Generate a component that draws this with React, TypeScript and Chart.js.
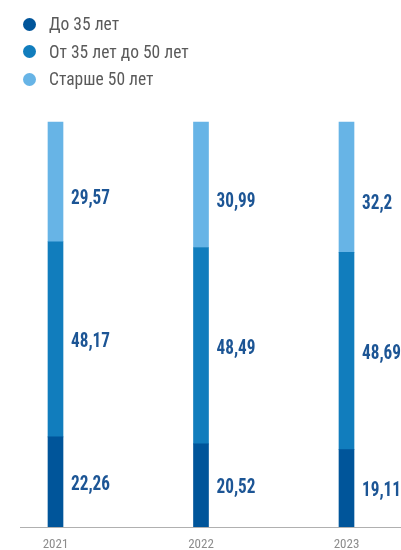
import React, { useEffect, useRef } from "react";
import { Chart, registerables } from "chart.js";

Chart.register(...registerables);

const years = ["2021", "2022", "2023"];
const seriesNames = ["До 35 лет", "От 35 лет до 50 лет", "Старше 50 лет"];
const under35 = [22.26, 20.52, 19.11];
const from35to50 = [48.17, 48.49, 48.69];
const over50 = [29.57, 30.99, 32.2];
const colors = ["#00559a", "#117dbd", "#67b4e6"];

const CONDENSED = "'Roboto Condensed', 'Liberation Sans Narrow', 'Arial Narrow', Roboto, sans-serif";

const fmt = (v: number) => String(v).replace(".", ",");

const valueLabels = {
  id: "valueLabels",
  afterDatasetsDraw(chart: any) {
    const ctx = chart.ctx;
    const n = chart.data.datasets.length;
    chart.data.datasets.forEach((ds: any, di: number) => {
      const meta = chart.getDatasetMeta(di);
      meta.data.forEach((bar: any, i: number) => {
        const top = Math.min(bar.y, bar.base);
        const bottom = Math.max(bar.y, bar.base);
        let y = (top + bottom) / 2 + 2;
        if (di === n - 1) y += 14;
        const x = bar.x + bar.width / 2 + 8;
        ctx.save();
        ctx.translate(x, y + 1);
        ctx.scale(0.86, 1);
        ctx.font = `bold 20px ${CONDENSED}`;
        ctx.fillStyle = "#1c5595";
        ctx.textAlign = "left";
        ctx.textBaseline = "middle";
        ctx.fillText(fmt(ds.data[i]), 0, 0);
        ctx.restore();
      });
    });
  },
};

const baseline = {
  id: "baseline",
  afterDatasetsDraw(chart: any) {
    const ctx = chart.ctx;
    const y = chart.chartArea.bottom + 0.5;
    ctx.save();
    ctx.strokeStyle = "#b0b0b0";
    ctx.lineWidth = 1;
    ctx.beginPath();
    ctx.moveTo(20, y);
    ctx.lineTo(chart.width, y);
    ctx.stroke();
    ctx.restore();
  },
};

export default function App() {
  const ref = useRef<HTMLCanvasElement | null>(null);
  useEffect(() => {
    if (!ref.current) return;
    const chart = new Chart(ref.current, {
      type: "bar",
      data: {
        labels: years,
        datasets: [
          { label: seriesNames[0], data: under35, backgroundColor: colors[0] },
          { label: seriesNames[1], data: from35to50, backgroundColor: colors[1] },
          { label: seriesNames[2], data: over50, backgroundColor: colors[2] },
        ].map((d) => ({ ...d, barThickness: 15, borderWidth: 0, clip: false as any })),
      },
      options: {
        animation: false,
        responsive: false,
        maintainAspectRatio: false,
        layout: { padding: { left: 55.5, right: 54.5, top: 122, bottom: 0 } },
        plugins: { legend: { display: false }, tooltip: { enabled: false } },
        scales: {
          x: {
            stacked: true,
            offset: false,
            grid: { display: false },
            border: { display: false },
            afterFit(scale: any) {
              scale.height = 23;
            },
            ticks: {
              color: "#8c8c8c",
              padding: 3,
              font: { family: CONDENSED, size: 13, lineHeight: 1 },
            },
          },
          y: { stacked: true, display: false, min: 0, max: 100 },
        },
      },
      plugins: [valueLabels, baseline],
    });
    return () => chart.destroy();
  }, []);

  return (
    <div style={{ position: "fixed", left: 0, top: 0, width: 401, height: 550, background: "#fff", overflow: "hidden" }}>
      <canvas ref={ref} width={401} height={550} style={{ position: "absolute", left: 0, top: 0, width: 401, height: 550 }} />
      <div style={{ position: "absolute", left: 0, top: 0 }}>
        {seriesNames.map((name, i) => (
          <div key={name} style={{ position: "absolute", left: 23, top: 12 + i * 27.5, height: 24, display: "flex", alignItems: "center", whiteSpace: "nowrap" }}>
            <span style={{ width: 13, height: 13, borderRadius: "50%", background: colors[i], display: "inline-block", flex: "none" }} />
            <span style={{ marginLeft: 13, fontFamily: CONDENSED, fontSize: 17.5, color: "#5a5a5a", lineHeight: "24px" }}>{name}</span>
          </div>
        ))}
      </div>
    </div>
  );
}
